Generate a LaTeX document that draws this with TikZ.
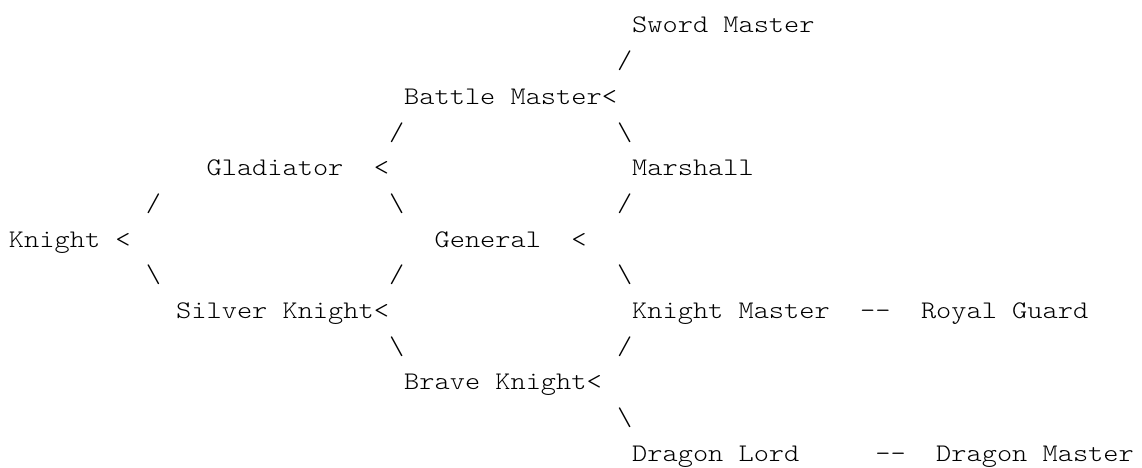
\documentclass[tikz,border=0pt]{standalone}
\usepackage{fontspec}
\newfontfamily\asciimono{lmmonolt10-regular.otf}[FakeStretch=1.143]
\tikzset{
  txt/.style={anchor=base west, inner sep=0pt, outer sep=0pt,
    font=\asciimono\fontsize{19}{19}\selectfont, text=black}
}
\begin{document}
\begin{tikzpicture}[x=11.4pt, y=-26.775pt]
\useasboundingbox (-0.592,-0.924) rectangle (74.54,12.185);
% row 0
\node[txt] (sm) at (41,0) {Sword Master};
% row 1
\node[txt] (s1) at (40,1) {/};
% row 2
\node[txt] (bm) at (26,2) {Battle Master<};
% row 3
\node[txt] (s2) at (25,3) {/};
\node[txt] (s3) at (40,3) {\textbackslash};
% row 4
\node[txt] (gl) at (13,4) {Gladiator};
\node[txt] (gll) at (24,4) {<};
\node[txt] (ma) at (41,4) {Marshall};
% row 5
\node[txt] (s4) at (9,5) {/};
\node[txt] (s5) at (25,5) {\textbackslash};
\node[txt] (s6) at (40,5) {/};
% row 6
\node[txt] (kn) at (0,6) {Knight <};
\node[txt] (ge) at (28,6) {General};
\node[txt] (gel) at (37,6) {<};
% row 7
\node[txt] (s7) at (9,7) {\textbackslash};
\node[txt] (s8) at (25,7) {/};
\node[txt] (s9) at (40,7) {\textbackslash};
% row 8
\node[txt] (sk) at (11,8) {Silver Knight<};
\node[txt] (km) at (41,8) {Knight Master};
\node[txt] (d1) at (56,8) {-\kern0pt-};
\node[txt] (rg) at (60,8) {Royal Guard};
% row 9
\node[txt] (s10) at (25,9) {\textbackslash};
\node[txt] (s11) at (40,9) {/};
% row 10
\node[txt] (bk) at (26,10) {Brave Knight<};
% row 11
\node[txt] (s12) at (40,11) {\textbackslash};
% row 12
\node[txt] (dl) at (41,12) {Dragon Lord};
\node[txt] (d2) at (57,12) {-\kern0pt-};
\node[txt] (dm) at (61,12) {Dragon Master};
\end{tikzpicture}
\end{document}
